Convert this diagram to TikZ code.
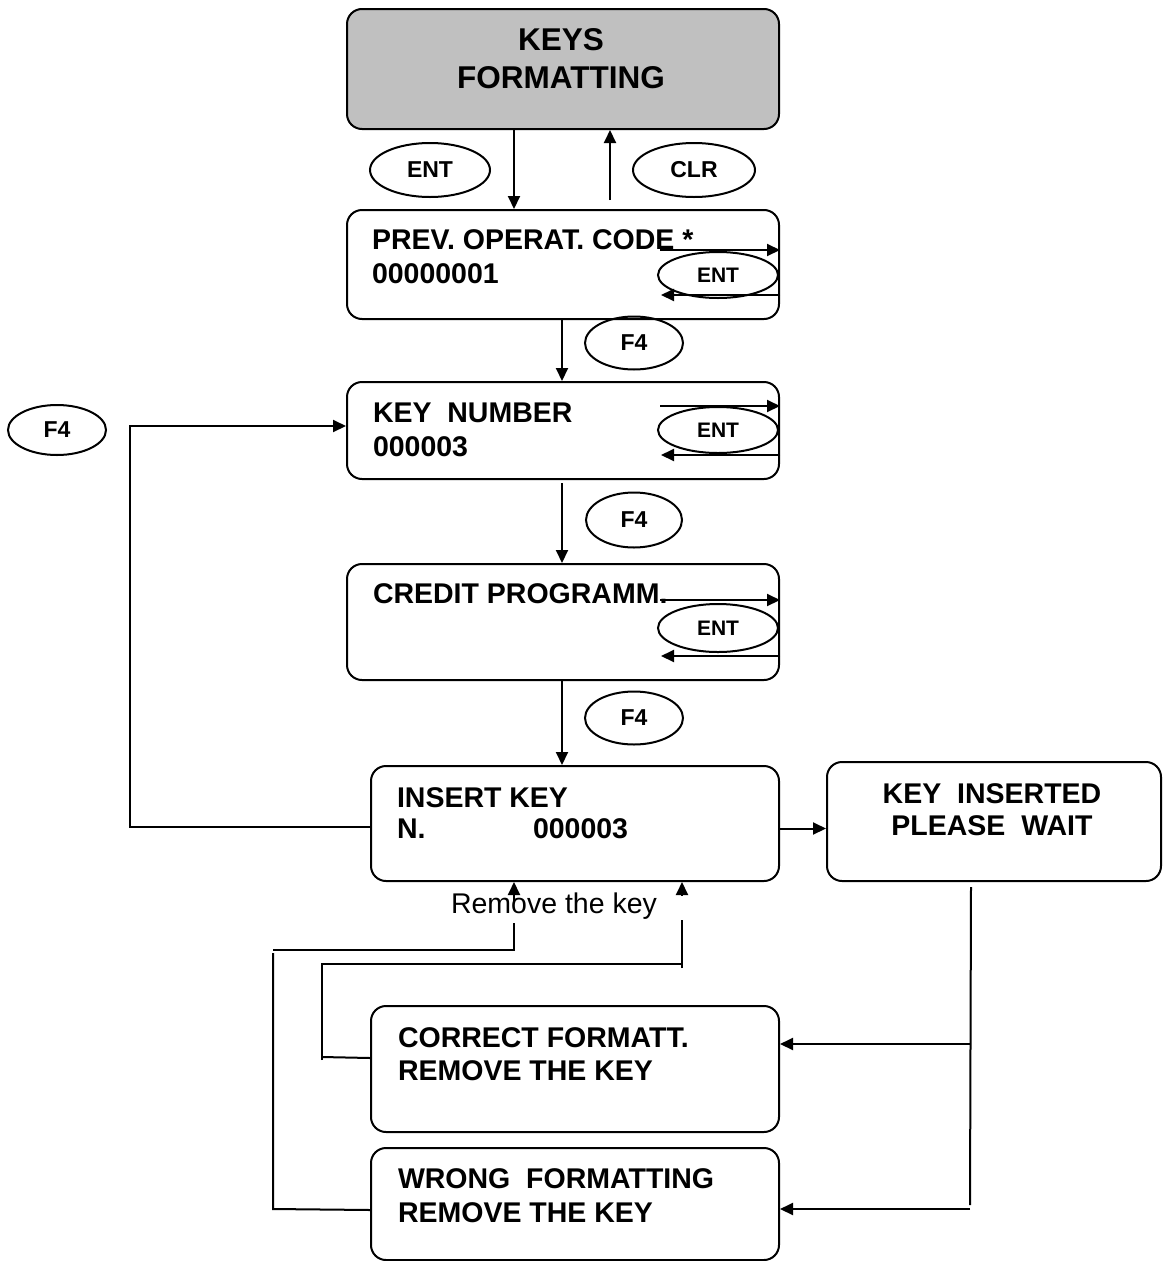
\documentclass[tikz,border=0pt]{standalone}
\usepackage{fontspec}
\setmainfont{Liberation Sans}
\usetikzlibrary{shapes.geometric,arrows.meta,calc}
\definecolor{boxgray}{RGB}{192,192,192}
\begin{document}
\begin{tikzpicture}[x=1pt,y=-1pt,
  line width=2pt,
  box/.style={draw,rounded corners=15pt,anchor=north west,inner sep=0pt},
  txt/.style={anchor=north west,inner sep=0pt,align=left,font=\bfseries\fontsize{28.5}{33.5}\selectfont},
  key/.style={draw,ellipse,inner sep=0pt,font=\bfseries\fontsize{23}{26}\selectfont},
  rkey/.style={draw,ellipse,inner sep=0pt,minimum width=120pt,font=\bfseries\fontsize{21}{24}\selectfont},
  arr/.style={-{Triangle[length=13pt,width=12pt]}}]
\useasboundingbox (0,0) rectangle (1162,1261);

% boxes
\node[box,fill=boxgray,minimum width=432pt,minimum height=120pt] (top) at (346,8) {};
\node[box,minimum width=432pt,minimum height=109pt] (prev) at (346,209) {};
\node[box,minimum width=432pt,minimum height=97pt] (keynum) at (346,381) {};
\node[box,minimum width=432pt,minimum height=116pt] (credit) at (346,563) {};
\node[box,minimum width=408pt,minimum height=115pt] (insert) at (370,765) {};
\node[box,minimum width=334pt,minimum height=119pt] (inserted) at (826,761) {};
\node[box,minimum width=408pt,minimum height=126pt] (correct) at (370,1005) {};
\node[box,minimum width=408pt,minimum height=112pt] (wrong) at (370,1147) {};

% texts
\node[anchor=north,inner sep=0pt,align=center,font=\bfseries\fontsize{31.5}{38}\selectfont] (ttop) at (561,28) {KEYS\\FORMATTING};
\node[txt] (tprev) at (371,229) {PREV. OPERAT. CODE *\\00000001};
\node[txt] (tkey) at (372,402) {KEY\ \ NUMBER\\000003};
\node[txt] (tcredit) at (372,583) {CREDIT PROGRAMM.};
\node[txt,font=\bfseries\fontsize{28.5}{31}\selectfont] (tinsert) at (396,787) {INSERT KEY\\\makebox[136pt][l]{N.}000003};
\node[anchor=north,inner sep=0pt,align=center,font=\bfseries\fontsize{28.5}{32}\selectfont] (tinserted) at (992,783) {KEY\ \ INSERTED\\PLEASE\ \ WAIT};
\node[txt,font=\bfseries\fontsize{28.5}{33}\selectfont] (tcorrect) at (397,1027) {CORRECT FORMATT.\\REMOVE THE KEY};
\node[txt,font=\bfseries\fontsize{28.5}{34}\selectfont] (twrong) at (397,1168) {WRONG\ \ FORMATTING\\REMOVE THE KEY};
\node[anchor=base west,inner sep=0pt,font=\fontsize{28.5}{33}\selectfont] (tremove) at (450,913) {Remove the key};

% key ellipses
\node[key,minimum width=120pt,minimum height=54pt] (ent1) at (430,170) {ENT};
\node[key,minimum width=122pt,minimum height=54pt] (clr) at (694,170) {CLR};
\node[key,minimum width=98pt,minimum height=53pt] (f41) at (634,343) {F4};
\node[key,minimum width=96pt,minimum height=55pt] (f42) at (634,520) {F4};
\node[key,minimum width=98pt,minimum height=53pt] (f43) at (634,718) {F4};
\node[key,minimum width=98pt,minimum height=50pt] (f40) at (57,430) {F4};
\node[rkey,minimum height=46pt] (ent2) at (718,275) {ENT};
\node[rkey,minimum height=46pt] (ent3) at (718,430) {ENT};
\node[rkey,minimum height=48pt] (ent4) at (718,628) {ENT};

% main flow
\draw[arr] ([xshift=168pt]top.south west) -- ([xshift=168pt]prev.north west);
\draw[arr] ([xshift=264pt,yshift=9pt]prev.north west) -- ([xshift=264pt]top.south west);
\draw[arr] ([xshift=216pt]prev.south west) -- ([xshift=216pt]keynum.north west);
\draw[arr] ([xshift=216pt,yshift=-3pt]keynum.south west) -- ([xshift=216pt]credit.north west);
\draw[arr] ([xshift=216pt]credit.south west) -- ([xshift=192pt]insert.north west);
\draw[arr] ([yshift=-5pt]insert.east) -- ([yshift=-5pt]insert.east -| inserted.west);

% ENT self loops
\foreach \b/\ya/\yb in {prev/41/86, keynum/25/74, credit/37/93}{
  \draw[arr] ([xshift=-120pt,yshift=-\ya pt]\b.north east) -- ([yshift=-\ya pt]\b.north east);
  \draw[arr] ([yshift=-\yb pt]\b.north east) -- ([xshift=-119pt,yshift=-\yb pt]\b.north east);
}

% back to key number
\draw[arr] ([yshift=-3.5pt]insert.west) -- ++(-240,0) |- ([yshift=4.5pt]keynum.west);

% from key inserted to results
\coordinate (j1) at (970,1044);
\coordinate (j2) at (970,1209);
\draw ([xshift=-23pt,yshift=-5pt]inserted.south) -- (970,1205);
\draw[arr] (j1) -- (j1 -| correct.east);
\draw[arr] (j2) -- (j2 -| wrong.east);

% correct -> insert key
\coordinate (c1) at (322,1060);
\coordinate (c2) at (322,964);
\coordinate (c3) at (682,964);
\draw ([yshift=11pt]correct.west) -- (322,1057);
\draw (c1) -- (c2) -- (c3);
\draw (682,968) -- (682,920);
\draw[arr] (682,895) -- ([xshift=312pt]insert.south west);

% wrong -> insert key
\coordinate (w1) at (273,953);
\coordinate (w2) at (273,950);
\coordinate (w3) at (514,950);
\draw ([yshift=-6pt]wrong.west) -- (273,1209) -- (w1);
\draw (w2) -- (w3) -- (514,923);
\draw[arr] (514,903) -- ([xshift=144pt]insert.south west);
\end{tikzpicture}
\end{document}
